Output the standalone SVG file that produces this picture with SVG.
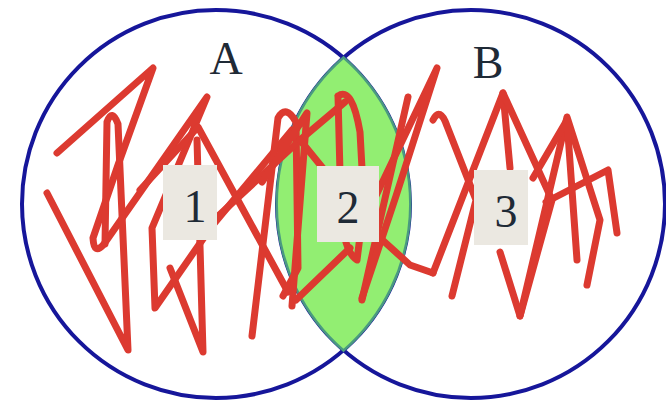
<svg xmlns="http://www.w3.org/2000/svg" width="666" height="405" viewBox="0 0 666 405">
  <style>
    .set { fill: none; stroke: #16169a; stroke-width: 4; }
    .lens { fill: #92ee72; stroke: #4a9a80; stroke-width: 2.5; }
    .scribble { fill: none; stroke: #dc3a30; stroke-width: 7; stroke-linecap: round; stroke-linejoin: round; }
    .tag { fill: #ebe8e1; }
    .lbl { font-family: "Liberation Serif", "DejaVu Serif", serif; font-size: 46px; fill: #1f2a36; text-anchor: middle; }
  </style>
  <rect width="666" height="405" fill="#ffffff"/>

  <!-- set outlines -->
  <g id="circle-A">
    <circle class="set" cx="216" cy="204" r="194"/>
  </g>
  <g id="circle-B">
    <circle class="set" cx="471" cy="204" r="194"/>
  </g>

  <!-- shaded intersection A ∩ B -->
  <g id="intersection">
    <path class="lens" d="M343.5,57.5 A194,194 0 0 0 343.5,350.5 A194,194 0 0 0 343.5,57.5 Z"/>
  </g>

  <!-- crossing-out strokes -->
  <g id="scribbles">
    <!-- A only -->
    <path class="scribble" d="M57,153 L153,68 L118,165 L93,238 Q94,256 104,244 L207,97 L152,228 L155,308 L212,226 L292,130"/>
    <path class="scribble" d="M105,244 L107,122 Q112,108 118,124 L128,350 L47,193"/>
    <path class="scribble" d="M140,190 L198,127 L288,292"/>
    <path class="scribble" d="M197,140 L203,352 L170,268"/>
    <path class="scribble" d="M252,336 L278,118 Q286,104 296,122 L298,268 L283,296"/>
    <path class="scribble" d="M216,218 L300,140 L345,102"/>
    <!-- A and B -->
    <path class="scribble" d="M262,182 L307,113 L292,306"/>
    <path class="scribble" d="M338,96 Q352,86 360,132 L364,205 L357,260 Q344,252 341,212 L338,96"/>
    <path class="scribble" d="M408,97 L362,300"/>
    <path class="scribble" d="M300,140 L378,236 L410,265 L433,273"/>
    <path class="scribble" d="M296,300 L350,248"/>
    <!-- B only -->
    <path class="scribble" d="M372,204 L437,68 L396,196 L362,298"/>
    <path class="scribble" d="M433,120 Q440,106 447,126 L476,200 L452,296"/>
    <path class="scribble" d="M433,273 L503,93 L510,168"/>
    <path class="scribble" d="M503,93 L552,200 L520,316 L500,252"/>
    <path class="scribble" d="M520,316 L567,117 L600,220 L587,285"/>
    <path class="scribble" d="M546,202 L608,170 L617,233"/>
    <path class="scribble" d="M577,260 L567,120 L533,178"/>
  </g>

  <!-- set names -->
  <g id="name-A"><text class="lbl" x="226" y="74">A</text></g>
  <g id="name-B"><text class="lbl" x="488" y="78">B</text></g>

  <!-- region numbers -->
  <g id="region-1">
    <rect class="tag" x="163" y="165" width="54" height="75"/>
    <text class="lbl" x="195" y="222">1</text>
  </g>
  <g id="region-2">
    <rect class="tag" x="317" y="166" width="62" height="76"/>
    <text class="lbl" x="348" y="223">2</text>
  </g>
  <g id="region-3">
    <rect class="tag" x="474" y="170" width="54" height="75"/>
    <text class="lbl" x="506" y="227">3</text>
  </g>
</svg>
